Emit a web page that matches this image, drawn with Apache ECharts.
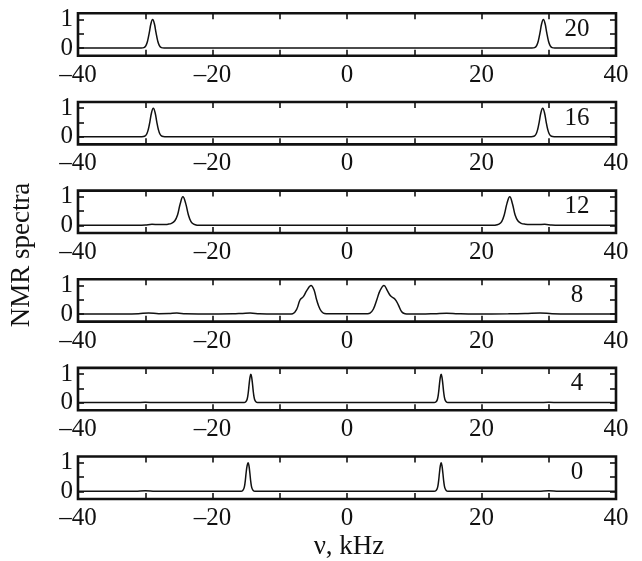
<!DOCTYPE html>
<html>
<head>
<meta charset="utf-8">
<script src="https://cdn.jsdelivr.net/npm/echarts@6/dist/echarts.min.js"></script>
<style>html,body{margin:0;padding:0;background:#fff}#c{width:642px;height:561px}</style>
</head>
<body>
<div id="c"></div>
<script>
// ---- data ----
var panelLabels = ['20', '16', '12', '8', '4', '0'];
var xTicks = [-40, -30, -20, -10, 0, 10, 20, 30, 40];
var xTickLabels = [-40, -20, 0, 20, 40];
var yTicks = [0, 0.5, 1];
var yTickLabels = [0, 1];

var spec20 = [[-40,0],[-30.6,0],[-30.2,0.015],[-29.9,0.085],[-29.65,0.25],[-29.4,0.54],[-29.15,0.86],[-28.9,1],[-28.65,0.86],[-28.4,0.54],[-28.15,0.25],[-27.9,0.085],[-27.6,0.015],[-27.2,0],[27.5,0],[27.9,0.015],[28.2,0.085],[28.45,0.25],[28.7,0.54],[28.95,0.86],[29.2,1],[29.45,0.86],[29.7,0.54],[29.95,0.25],[30.2,0.085],[30.5,0.015],[30.9,0],[40,0]];
var spec16 = [[-40,0],[-30.5,0],[-30.1,0.015],[-29.8,0.085],[-29.55,0.25],[-29.3,0.54],[-29.05,0.86],[-28.8,1],[-28.55,0.86],[-28.3,0.54],[-28.05,0.25],[-27.8,0.085],[-27.5,0.015],[-27.1,0],[27.4,0],[27.8,0.015],[28.1,0.085],[28.35,0.25],[28.6,0.54],[28.85,0.86],[29.1,1],[29.35,0.86],[29.6,0.54],[29.85,0.25],[30.1,0.085],[30.4,0.015],[30.8,0],[40,0]];
var spec12 = [[-40,0],[-31,0],[-30,0.01],[-29,0.035],[-28,0.025],[-27.2,0.03],[-26.6,0.04],[-26.1,0.07],[-25.6,0.16],[-25.2,0.36],[-24.8,0.76],[-24.4,1],[-24.0,0.78],[-23.6,0.38],[-23.2,0.13],[-22.8,0.04],[-22.3,0.005],[-21.6,0],[21.4,0],[22.0,0.005],[22.6,0.04],[23.0,0.13],[23.4,0.38],[23.8,0.78],[24.2,1],[24.6,0.76],[25.0,0.36],[25.4,0.16],[25.9,0.07],[26.5,0.04],[27.3,0.03],[28.3,0.03],[29.4,0.035],[30.4,0.01],[31.5,0],[40,0]];
var spec8 = [[-40,0],[-33,0],[-31,0.01],[-29.5,0.035],[-28,0.01],[-26.5,0.015],[-25.3,0.03],[-24,0.01],[-20,0],[-17,0.005],[-15.5,0.02],[-14.4,0.03],[-13,0.01],[-11,0],[-8.6,0],[-8.07,0.01],[-7.48,0.165],[-6.99,0.49],[-6.49,0.61],[-5.99,0.82],[-5.35,1.0],[-4.91,0.85],[-4.51,0.49],[-4.01,0.165],[-3.52,0.03],[-3.0,0.01],[-2,0.005],[0,0.012],[2,0.005],[3.0,0.01],[3.42,0.03],[3.91,0.165],[4.42,0.49],[4.91,0.82],[5.5,1.0],[6.0,0.82],[6.5,0.63],[7.14,0.52],[7.63,0.32],[8.13,0.08],[8.62,0.01],[9.2,0],[11,0],[13,0.01],[14.8,0.025],[16.5,0.01],[19,0],[24,0.005],[26.5,0.015],[28.7,0.035],[30.5,0.01],[33,0],[40,0]];
var spec4 = [[-40,0],[-31.5,0],[-30,0.015],[-28.5,0],[-15.3,0],[-15.05,0.03],[-14.85,0.12],[-14.7,0.32],[-14.55,0.65],[-14.42,0.9],[-14.3,1],[-14.18,0.9],[-14.05,0.65],[-13.9,0.32],[-13.75,0.12],[-13.55,0.03],[-13.3,0],[12.95,0],[13.25,0.03],[13.45,0.12],[13.6,0.32],[13.75,0.65],[13.88,0.9],[14.0,1],[14.12,0.9],[14.25,0.65],[14.4,0.32],[14.55,0.12],[14.75,0.03],[15.0,0],[28.5,0],[30,0.015],[31.5,0],[40,0]];
var spec0 = [[-40,0],[-31.5,0],[-30,0.02],[-28.5,0],[-15.75,0],[-15.5,0.03],[-15.3,0.12],[-15.15,0.32],[-15.0,0.65],[-14.85,0.9],[-14.7,1],[-14.58,0.9],[-14.45,0.65],[-14.3,0.32],[-14.15,0.12],[-13.95,0.03],[-13.7,0],[12.95,0],[13.25,0.03],[13.45,0.12],[13.6,0.32],[13.75,0.65],[13.88,0.9],[14.0,1],[14.12,0.9],[14.25,0.65],[14.4,0.32],[14.55,0.12],[14.75,0.03],[15.0,0],[28.5,0],[30,0.02],[31.5,0],[40,0]];
var spectra = [spec20, spec16, spec12, spec8, spec4, spec0];

// ---- layout ----
var FONT = "'Liberation Serif', 'DejaVu Serif', serif";
var FS = 25, FT = 27;
var L = 78, W = 538, T0 = 13.3, STEP = 88.65, H = 42.4;
var YMIN = -0.27, YMAX = 1.22;
function fmt(v) { return v < 0 ? '\u2013' + Math.abs(v) : String(v); }
function mkTick(vals) { return {show: true, inside: true, length: 6, customValues: vals.slice(), lineStyle: {color: '#111', width: 1.6}}; }
function noLine() { return {show: false, onZero: false}; }

var grids = [], xAxes = [], yAxes = [], series = [], graphics = [];
for (var i = 0; i < 6; i++) {
  var gTop = T0 + STEP * i;
  grids.push({left: L, top: gTop, width: W, height: H, show: true, borderColor: '#111', borderWidth: 2.6});
  xAxes.push({type: 'value', gridIndex: i, position: 'bottom', min: -40, max: 40,
    axisLine: noLine(), splitLine: {show: false},
    axisTick: mkTick(xTicks),
    axisLabel: {customValues: xTickLabels.slice(), formatter: fmt, color: '#111', fontFamily: FONT, fontSize: FS, margin: 7}});
  xAxes.push({type: 'value', gridIndex: i, position: 'top', min: -40, max: 40,
    axisLine: noLine(), splitLine: {show: false},
    axisTick: mkTick(xTicks), axisLabel: {show: false}});
  yAxes.push({type: 'value', gridIndex: i, position: 'left', min: YMIN, max: YMAX,
    axisLine: noLine(), splitLine: {show: false},
    axisTick: mkTick(yTicks),
    axisLabel: {customValues: yTickLabels.slice(), color: '#111', fontFamily: FONT, fontSize: FS, margin: 5}});
  yAxes.push({type: 'value', gridIndex: i, position: 'right', min: YMIN, max: YMAX,
    axisLine: noLine(), splitLine: {show: false},
    axisTick: mkTick(yTicks), axisLabel: {show: false}});
  series.push({type: 'line', xAxisIndex: 2 * i, yAxisIndex: 2 * i, data: spectra[i],
    showSymbol: false, smooth: 0.4, lineStyle: {color: '#111', width: 1.5}, silent: true});
  graphics.push({type: 'text', x: 577, y: gTop + 16, style: {text: panelLabels[i], fill: '#111', font: FS + 'px ' + FONT, align: 'center', verticalAlign: 'middle'}});
}
graphics.push({type: 'text', x: 22, y: 255, rotation: Math.PI / 2, style: {text: 'NMR spectra', fill: '#111', font: FT + 'px ' + FONT, align: 'center', verticalAlign: 'middle'}});
graphics.push({type: 'text', x: 349, y: 547, style: {text: '\u03bd, kHz', fill: '#111', font: FT + 'px ' + FONT, align: 'center', verticalAlign: 'middle'}});

var chart = echarts.init(document.getElementById('c'), null, {renderer: 'canvas'});
chart.setOption({animation: false, backgroundColor: '#fff', grid: grids, xAxis: xAxes, yAxis: yAxes, series: series, graphic: graphics});
</script>
</body>
</html>
